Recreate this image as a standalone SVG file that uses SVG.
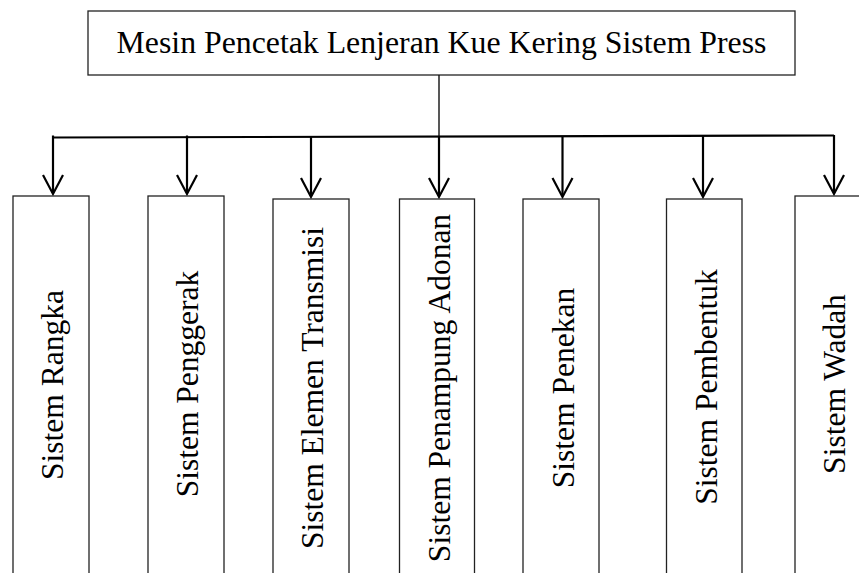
<svg xmlns="http://www.w3.org/2000/svg" width="859" height="573" viewBox="0 0 859 573">
  <style>
    .box { fill: #fff; stroke: #222; stroke-width: 1.3; }
    .title { font-family: "Liberation Serif", "Times New Roman", serif; font-size: 31.8px; fill: #000; }
    .label { font-family: "Liberation Serif", "Times New Roman", serif; font-size: 31.5px; fill: #000; text-anchor: middle; }
    .wire { fill: none; stroke: #000; stroke-width: 2.2; }
    .thin { fill: none; stroke: #111; stroke-width: 1.4; }
  </style>
  <defs>
    <!-- open chevron arrowhead, tip at origin pointing down -->
    <path id="head" d="M-10,-19 L0,0 L10,-19" fill="none" stroke="#000" stroke-width="2.2" stroke-linejoin="miter"/>
  </defs>
  <rect width="859" height="573" fill="#fff"/>

  <g id="root">
    <rect class="box" x="88" y="11" width="707" height="64"/>
    <text class="title" x="441.5" y="53" text-anchor="middle">Mesin Pencetak Lenjeran Kue Kering Sistem Press</text>
  </g>

  <g id="connectors">
    <line class="thin" x1="439" y1="75" x2="439" y2="136"/>
    <path class="wire" d="M53,137.5 L834,135.5"/>
    <line class="wire" x1="53" y1="135.5" x2="53" y2="193"/>
    <use href="#head" x="53" y="194"/>
    <line class="wire" x1="187" y1="135.5" x2="187" y2="193"/>
    <use href="#head" x="187" y="194"/>
    <line class="wire" x1="311" y1="137" x2="311" y2="196"/>
    <use href="#head" x="311" y="197"/>
    <line class="wire" x1="439" y1="136" x2="439" y2="196"/>
    <use href="#head" x="439" y="197"/>
    <line class="wire" x1="562.5" y1="136" x2="562.5" y2="196"/>
    <use href="#head" x="562.5" y="197"/>
    <line class="wire" x1="703" y1="136" x2="703" y2="196"/>
    <use href="#head" x="703" y="197"/>
    <line class="wire" x1="834" y1="135" x2="834" y2="193"/>
    <use href="#head" x="834" y="194"/>
  </g>

  <g id="rangka">
    <rect class="box" x="13" y="196" width="76" height="400"/>
    <text class="label" transform="translate(63,385) rotate(-90)">Sistem Rangka</text>
  </g>
  <g id="penggerak">
    <rect class="box" x="148" y="196" width="76" height="400"/>
    <text class="label" transform="translate(198,384) rotate(-90)">Sistem Penggerak</text>
  </g>
  <g id="elemen-transmisi">
    <rect class="box" x="273" y="199" width="76" height="400"/>
    <text class="label" transform="translate(323,388) rotate(-90)">Sistem Elemen Transmisi</text>
  </g>
  <g id="penampung-adonan">
    <rect class="box" x="399.5" y="199" width="75" height="400"/>
    <text class="label" transform="translate(450,388) rotate(-90)">Sistem Penampung Adonan</text>
  </g>
  <g id="penekan">
    <rect class="box" x="523" y="199" width="76" height="400"/>
    <text class="label" transform="translate(574,388) rotate(-90)">Sistem Penekan</text>
  </g>
  <g id="pembentuk">
    <rect class="box" x="666.5" y="199" width="75.5" height="400"/>
    <text class="label" transform="translate(717,387) rotate(-90)">Sistem Pembentuk</text>
  </g>
  <g id="wadah">
    <rect class="box" x="795" y="196" width="76" height="400"/>
    <text class="label" transform="translate(845,384) rotate(-90)">Sistem Wadah</text>
  </g>
</svg>
